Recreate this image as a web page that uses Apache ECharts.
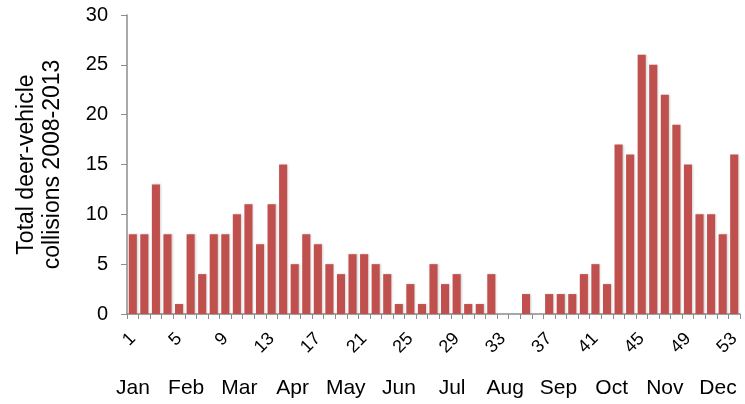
<!DOCTYPE html>
<html>
<head>
<meta charset="utf-8">
<script src="https://cdn.jsdelivr.net/npm/echarts@6/dist/echarts.min.js"></script>
<style>
  html, body { margin: 0; padding: 0; background: #fff; }
  #chart { width: 745px; height: 404px; }
</style>
</head>
<body>
<div id="chart"></div>
<script>
// Week numbers 1..53
var weeks = [];
for (var w = 1; w <= 53; w++) weeks.push(String(w));

// Total deer-vehicle collisions per week, 2008-2013
var collisions = [
  8, 8, 13, 8, 1, 8, 4, 8, 8, 10,
  11, 7, 11, 15, 5, 8, 7, 5, 4, 6,
  6, 5, 4, 1, 3, 1, 5, 3, 4, 1,
  1, 4, 0, 0, 2, 0, 2, 2, 2, 4,
  5, 3, 17, 16, 26, 25, 22, 19, 15, 10,
  10, 8, 16
];

var months = ['Jan', 'Feb', 'Mar', 'Apr', 'May', 'Jun', 'Jul', 'Aug', 'Sep', 'Oct', 'Nov', 'Dec'];
var yTicks = [0, 5, 10, 15, 20, 25, 30];

var font = '"Liberation Sans", Arial, sans-serif';
var axisGrey = '#8c8c8c';

var chart = echarts.init(document.getElementById('chart'));
chart.setOption({
  animation: false,
  backgroundColor: '#ffffff',
  grid: [
    // main plot area
    { left: 127, right: 5, top: 15, bottom: 90 },
    // month row underneath the week numbers
    { left: 133, right: 27, top: 15, bottom: 90 }
  ],
  xAxis: [
    {
      type: 'category',
      gridIndex: 0,
      data: weeks,
      axisLine: { lineStyle: { color: axisGrey, width: 1.5 } },
      axisTick: { show: true, interval: 0, length: 5, lineStyle: { color: axisGrey } },
      axisLabel: {
        interval: 3,
        rotate: 45,
        margin: 22,
        color: '#000',
        fontFamily: font,
        fontSize: 18
      }
    },
    {
      type: 'category',
      gridIndex: 1,
      data: months,
      boundaryGap: false,
      axisLine: { show: false },
      axisTick: { show: false },
      axisLabel: {
        interval: 0,
        margin: 64,
        color: '#000',
        fontFamily: font,
        fontSize: 21
      }
    }
  ],
  yAxis: [
    {
      type: 'value',
      gridIndex: 0,
      min: yTicks[0],
      max: yTicks[yTicks.length - 1],
      interval: 5,
      name: 'Total deer-vehicle\ncollisions 2008-2013',
      nameLocation: 'middle',
      nameGap: 61,
      nameTextStyle: { color: '#000', fontFamily: font, fontSize: 23, lineHeight: 26 },
      axisLine: { show: true, lineStyle: { color: axisGrey, width: 1.5 } },
      axisTick: { show: true, length: 6, lineStyle: { color: axisGrey } },
      splitLine: { show: false },
      axisLabel: { margin: 19, color: '#000', fontFamily: font, fontSize: 20 }
    },
    {
      type: 'value',
      gridIndex: 1,
      show: false
    }
  ],
  series: [
    {
      type: 'bar',
      xAxisIndex: 0,
      yAxisIndex: 0,
      data: collisions,
      barCategoryGap: '30%',
      itemStyle: {
        color: '#c0504d',
        shadowColor: 'rgba(0,0,0,0.18)',
        shadowBlur: 2,
        shadowOffsetX: 1,
        shadowOffsetY: 0
      }
    }
  ]
});
</script>
</body>
</html>
